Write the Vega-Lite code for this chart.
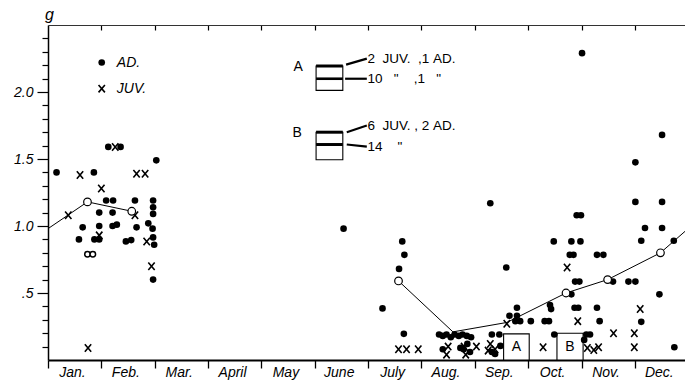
{
  "$schema": "https://vega.github.io/schema/vega-lite/v6.json",
  "width": 637,
  "height": 335,
  "autosize": {"type": "none"},
  "padding": {"left": 48, "top": 25, "right": 0, "bottom": 21},
  "background": "white",
  "config": {"view": {"stroke": null}, "axis": {"grid": false}},
  "resolve": {"axis": {"x": "independent", "y": "independent"}},
  "datasets": {
    "pts": [
      {"m": 0.16, "v": 1.40, "t": "AD"}, {"m": 0.86, "v": 1.40, "t": "AD"}, {"m": 1.13, "v": 1.59, "t": "AD"}, {"m": 1.36, "v": 1.59, "t": "AD"},
      {"m": 2.03, "v": 1.49, "t": "AD"}, {"m": 1.09, "v": 1.19, "t": "AD"}, {"m": 1.22, "v": 1.19, "t": "AD"}, {"m": 1.63, "v": 1.19, "t": "AD"},
      {"m": 1.97, "v": 1.19, "t": "AD"}, {"m": 0.96, "v": 1.10, "t": "AD"}, {"m": 1.21, "v": 1.10, "t": "AD"}, {"m": 1.97, "v": 1.14, "t": "AD"},
      {"m": 1.97, "v": 1.09, "t": "AD"}, {"m": 0.65, "v": 0.99, "t": "AD"}, {"m": 0.96, "v": 1.00, "t": "AD"}, {"m": 1.21, "v": 1.00, "t": "AD"},
      {"m": 1.29, "v": 1.01, "t": "AD"}, {"m": 1.66, "v": 0.99, "t": "AD"}, {"m": 1.88, "v": 1.02, "t": "AD"}, {"m": 1.96, "v": 0.98, "t": "AD"},
      {"m": 0.58, "v": 0.90, "t": "AD"}, {"m": 0.87, "v": 0.90, "t": "AD"}, {"m": 0.96, "v": 0.90, "t": "AD"}, {"m": 1.46, "v": 0.885, "t": "AD"},
      {"m": 1.56, "v": 0.895, "t": "AD"}, {"m": 1.97, "v": 0.915, "t": "AD"}, {"m": 1.99, "v": 0.86, "t": "AD"}, {"m": 1.97, "v": 0.60, "t": "AD"},
      {"m": 5.54, "v": 0.98, "t": "AD"}, {"m": 6.64, "v": 0.885, "t": "AD"}, {"m": 6.68, "v": 0.785, "t": "AD"}, {"m": 6.58, "v": 0.68, "t": "AD"},
      {"m": 6.27, "v": 0.385, "t": "AD"}, {"m": 6.67, "v": 0.195, "t": "AD"},
      {"m": 7.33, "v": 0.19, "t": "AD"}, {"m": 7.40, "v": 0.18, "t": "AD"}, {"m": 7.47, "v": 0.19, "t": "AD"}, {"m": 7.55, "v": 0.17, "t": "AD"},
      {"m": 7.62, "v": 0.19, "t": "AD"}, {"m": 7.70, "v": 0.18, "t": "AD"}, {"m": 7.77, "v": 0.19, "t": "AD"}, {"m": 7.85, "v": 0.18, "t": "AD"},
      {"m": 7.93, "v": 0.17, "t": "AD"}, {"m": 7.40, "v": 0.08, "t": "AD"}, {"m": 7.73, "v": 0.09, "t": "AD"}, {"m": 7.79, "v": 0.08, "t": "AD"},
      {"m": 7.86, "v": 0.12, "t": "AD"}, {"m": 7.91, "v": 0.06, "t": "AD"},
      {"m": 8.29, "v": 1.17, "t": "AD"}, {"m": 8.59, "v": 0.69, "t": "AD"}, {"m": 8.79, "v": 0.39, "t": "AD"}, {"m": 8.79, "v": 0.33, "t": "AD"},
      {"m": 8.65, "v": 0.33, "t": "AD"}, {"m": 8.76, "v": 0.29, "t": "AD"}, {"m": 8.85, "v": 0.29, "t": "AD"}, {"m": 9.05, "v": 0.29, "t": "AD"},
      {"m": 8.32, "v": 0.19, "t": "AD"}, {"m": 8.46, "v": 0.19, "t": "AD"}, {"m": 8.32, "v": 0.06, "t": "AD"}, {"m": 8.38, "v": 0.045, "t": "AD"},
      {"m": 8.48, "v": 0.105, "t": "AD"},
      {"m": 9.31, "v": 0.29, "t": "AD"}, {"m": 9.39, "v": 0.29, "t": "AD"}, {"m": 9.48, "v": 0.885, "t": "AD"}, {"m": 9.81, "v": 0.885, "t": "AD"},
      {"m": 9.98, "v": 0.885, "t": "AD"}, {"m": 9.91, "v": 1.08, "t": "AD"}, {"m": 9.99, "v": 1.08, "t": "AD"}, {"m": 9.78, "v": 0.785, "t": "AD"},
      {"m": 9.85, "v": 0.785, "t": "AD"}, {"m": 10.29, "v": 0.785, "t": "AD"}, {"m": 10.41, "v": 0.785, "t": "AD"}, {"m": 9.88, "v": 0.585, "t": "AD"},
      {"m": 9.96, "v": 0.585, "t": "AD"}, {"m": 9.81, "v": 0.49, "t": "AD"}, {"m": 9.41, "v": 0.41, "t": "AD"}, {"m": 9.43, "v": 0.38, "t": "AD"},
      {"m": 9.87, "v": 0.39, "t": "AD"}, {"m": 9.94, "v": 0.39, "t": "AD"}, {"m": 10.29, "v": 0.39, "t": "AD"}, {"m": 10.34, "v": 0.29, "t": "AD"},
      {"m": 9.49, "v": 0.19, "t": "AD"}, {"m": 10.09, "v": 0.19, "t": "AD"}, {"m": 10.16, "v": 0.19, "t": "AD"}, {"m": 10.05, "v": 0.15, "t": "AD"},
      {"m": 10.01, "v": 2.29, "t": "AD"}, {"m": 10.59, "v": 0.585, "t": "AD"}, {"m": 10.88, "v": 0.585, "t": "AD"}, {"m": 11.01, "v": 0.585, "t": "AD"},
      {"m": 11.01, "v": 1.475, "t": "AD"}, {"m": 11.01, "v": 1.18, "t": "AD"}, {"m": 11.19, "v": 0.985, "t": "AD"}, {"m": 11.12, "v": 0.89, "t": "AD"},
      {"m": 11.12, "v": 0.285, "t": "AD"}, {"m": 11.51, "v": 1.68, "t": "AD"}, {"m": 11.51, "v": 1.18, "t": "AD"}, {"m": 11.51, "v": 0.985, "t": "AD"},
      {"m": 11.73, "v": 0.89, "t": "AD"}, {"m": 11.46, "v": 0.49, "t": "AD"}, {"m": 11.74, "v": 0.095, "t": "AD"},
      {"m": 1.007, "v": 2.22, "t": "AD"},
      {"m": 0.38, "v": 1.08, "t": "JUV"}, {"m": 0.60, "v": 1.38, "t": "JUV"}, {"m": 1.00, "v": 1.28, "t": "JUV"}, {"m": 1.26, "v": 1.59, "t": "JUV"},
      {"m": 1.66, "v": 1.39, "t": "JUV"}, {"m": 1.82, "v": 1.39, "t": "JUV"}, {"m": 1.63, "v": 1.08, "t": "JUV"}, {"m": 1.85, "v": 0.885, "t": "JUV"},
      {"m": 1.94, "v": 0.70, "t": "JUV"}, {"m": 0.75, "v": 0.09, "t": "JUV"}, {"m": 0.96, "v": 0.93, "t": "JUV"},
      {"m": 6.57, "v": 0.08, "t": "JUV"}, {"m": 6.72, "v": 0.08, "t": "JUV"}, {"m": 6.94, "v": 0.08, "t": "JUV"},
      {"m": 7.50, "v": 0.10, "t": "JUV"}, {"m": 7.47, "v": 0.04, "t": "JUV"}, {"m": 7.80, "v": 0.10, "t": "JUV"}, {"m": 7.83, "v": 0.04, "t": "JUV"},
      {"m": 8.03, "v": 0.10, "t": "JUV"},
      {"m": 8.60, "v": 0.27, "t": "JUV"}, {"m": 8.29, "v": 0.12, "t": "JUV"}, {"m": 8.38, "v": 0.08, "t": "JUV"}, {"m": 8.25, "v": 0.07, "t": "JUV"},
      {"m": 9.73, "v": 0.69, "t": "JUV"}, {"m": 9.93, "v": 0.29, "t": "JUV"}, {"m": 9.28, "v": 0.095, "t": "JUV"}, {"m": 10.11, "v": 0.09, "t": "JUV"},
      {"m": 10.23, "v": 0.075, "t": "JUV"}, {"m": 10.32, "v": 0.095, "t": "JUV"},
      {"m": 10.60, "v": 0.20, "t": "JUV"}, {"m": 11.10, "v": 0.38, "t": "JUV"}, {"m": 10.99, "v": 0.20, "t": "JUV"}, {"m": 10.99, "v": 0.095, "t": "JUV"},
      {"m": 1.007, "v": 2.025, "t": "JUV"},
      {"m": 0.74, "v": 0.79, "t": "O"}, {"m": 0.84, "v": 0.79, "t": "O"}
    ],
    "mean": [
      {"m": 0, "v": 0.98, "seg": 1, "mk": false},
      {"m": 0.74, "v": 1.18, "seg": 1, "mk": true},
      {"m": 1.57, "v": 1.11, "seg": 1, "mk": true},
      {"m": 6.57, "v": 0.59, "seg": 2, "mk": true},
      {"m": 7.59, "v": 0.21, "seg": 2, "mk": false},
      {"m": 8.60, "v": 0.28, "seg": 2, "mk": false},
      {"m": 9.71, "v": 0.50, "seg": 2, "mk": true},
      {"m": 10.49, "v": 0.60, "seg": 2, "mk": true},
      {"m": 11.48, "v": 0.80, "seg": 2, "mk": true},
      {"m": 11.94, "v": 0.96, "seg": 2, "mk": false}
    ],
    "rects": [
      {"x1": 8.54, "x2": 9.02, "y1": 0, "y2": 0.195},
      {"x1": 9.54, "x2": 10.03, "y1": 0, "y2": 0.2},
      {"x1": 5.025, "x2": 5.526, "y1": 2.012, "y2": 2.194},
      {"x1": 5.025, "x2": 5.526, "y1": 1.494, "y2": 1.70}
    ],
    "rules": [
      {"x1": 5.025, "x2": 5.526, "y1": 2.194, "y2": 2.194, "w": "heavy"},
      {"x1": 5.025, "x2": 5.526, "y1": 2.099, "y2": 2.099, "w": "medium"},
      {"x1": 5.025, "x2": 5.526, "y1": 1.70, "y2": 1.70, "w": "heavy"},
      {"x1": 5.025, "x2": 5.526, "y1": 1.608, "y2": 1.608, "w": "heavy"},
      {"x1": 5.588, "x2": 5.976, "y1": 2.204, "y2": 2.249, "w": "thin"},
      {"x1": 5.569, "x2": 5.976, "y1": 2.099, "y2": 2.099, "w": "thin"},
      {"x1": 5.60, "x2": 5.976, "y1": 1.70, "y2": 1.75, "w": "thin"},
      {"x1": 5.60, "x2": 5.976, "y1": 1.608, "y2": 1.593, "w": "thin"}
    ],
    "ltext": [
      {"m": 5.99, "v": 2.249, "s": "2\u00a0\u00a0JUV.\u00a0\u00a0,1\u00a0AD."},
      {"m": 5.99, "v": 2.099, "s": "10\u00a0\u00a0\u00a0\"\u00a0\u00a0\u00a0\u00a0,1\u00a0\u00a0\u00a0\""},
      {"m": 5.99, "v": 1.75, "s": "6\u00a0\u00a0JUV.\u00a0,\u00a02\u00a0AD."},
      {"m": 5.99, "v": 1.593, "s": "14\u00a0\u00a0\u00a0\u00a0\""}
    ],
    "ctext": [
      {"m": 4.69, "v": 2.19, "s": "A"},
      {"m": 4.67, "v": 1.693, "s": "B"},
      {"m": 8.78, "v": 0.095, "s": "A"},
      {"m": 9.785, "v": 0.095, "s": "B"}
    ],
    "itext": [
      {"m": 1.29, "v": 2.22, "s": "AD."},
      {"m": 1.29, "v": 2.025, "s": "JUV."}
    ]
  },
  "layer": [
    {
      "data": {"name": "rects"},
      "mark": {"type": "rect", "fill": "white", "stroke": "black", "strokeWidth": 1.1},
      "encoding": {
        "x": {"field": "x1", "type": "quantitative", "scale": {"domain": [0, 11.94], "nice": false, "zero": false},
          "axis": {"orient": "bottom", "title": null, "values": [0,1,2,3,4,5,6,7,8,9,10,11],
            "labelExpr": "['Jan.','Feb.','Mar.','April','May','June','July','Aug.','Sep.','Oct.','Nov.','Dec.'][datum.value]",
            "labelOffset": 24, "labelAlign": "center", "labelFont": "Liberation Sans", "labelFontStyle": "italic",
            "labelFontSize": 14, "labelColor": "black", "labelPadding": -3, "labelFlush": false, "labelOverlap": false, "labelBound": false,
            "tickSize": 8, "tickColor": "black", "tickWidth": 1.3, "domainColor": "black", "domainWidth": 2, "grid": false}},
        "x2": {"field": "x2"},
        "y": {"field": "y1", "type": "quantitative", "scale": {"domain": [0, 2.5], "nice": false, "zero": false},
          "axis": {"orient": "left", "title": "g", "values": [0.5, 1, 1.5, 2],
            "labelExpr": "datum.value == 0.5 ? '.5' : format(datum.value, '.1f')",
            "labelFont": "Liberation Sans", "labelFontStyle": "italic", "labelFontSize": 14, "labelColor": "black", "labelPadding": 4,
            "tickSize": 11, "tickColor": "black", "tickWidth": 1.2, "domainColor": "black", "domainWidth": 1.5,
            "titleAngle": 0, "titleX": 1, "titleY": -6, "titleAlign": "center", "titleBaseline": "alphabetic",
            "titleFont": "Liberation Sans", "titleFontStyle": "italic", "titleFontSize": 16, "titleFontWeight": "normal", "titleColor": "black", "grid": false}},
        "y2": {"field": "y2"}
      }
    },
    {
      "data": {"name": "rules"},
      "mark": {"type": "rule", "color": "black"},
      "encoding": {
        "x": {"field": "x1", "type": "quantitative", "scale": {"domain": [0, 11.94], "nice": false, "zero": false},
          "axis": {"orient": "top", "title": null, "values": [1,2,3,4,5,6,7,8,9,10,11], "labels": false,
            "tickSize": -5, "tickColor": "black", "tickWidth": 1.2, "domainColor": "#333333", "domainWidth": 1, "grid": false}},
        "x2": {"field": "x2"},
        "y": {"field": "y1", "type": "quantitative", "scale": {"domain": [0, 2.5], "nice": false, "zero": false},
          "axis": {"orient": "left", "title": null, "values": [0.1,0.2,0.3,0.4,0.6,0.7,0.8,0.9,1.1,1.2,1.3,1.4,1.6,1.7,1.8,1.9,2.1,2.2,2.3,2.4],
            "labels": false, "domain": false, "tickSize": 6, "tickColor": "black", "tickWidth": 1.2, "grid": false}},
        "y2": {"field": "y2"},
        "strokeWidth": {"field": "w", "type": "nominal", "scale": {"domain": ["heavy", "medium", "thin"], "range": [3, 2.2, 1]}, "legend": null}
      }
    },
    {
      "data": {"name": "mean"},
      "mark": {"type": "line", "color": "black", "strokeWidth": 1},
      "encoding": {
        "x": {"field": "m", "type": "quantitative", "scale": {"domain": [0, 11.94], "nice": false, "zero": false}, "axis": null},
        "y": {"field": "v", "type": "quantitative", "scale": {"domain": [0, 2.5], "nice": false, "zero": false}, "axis": null},
        "detail": {"field": "seg", "type": "nominal"}
      }
    },
    {
      "data": {"name": "pts"},
      "transform": [{"filter": "datum.t == 'AD'"}],
      "mark": {"type": "point", "shape": "circle", "filled": true, "size": 44, "color": "black", "opacity": 1},
      "encoding": {
        "x": {"field": "m", "type": "quantitative", "scale": {"domain": [0, 11.94], "nice": false, "zero": false}, "axis": null},
        "y": {"field": "v", "type": "quantitative", "scale": {"domain": [0, 2.5], "nice": false, "zero": false}, "axis": null}
      }
    },
    {
      "data": {"name": "pts"},
      "transform": [{"filter": "datum.t == 'JUV'"}],
      "mark": {"type": "point", "shape": "M-0.85,-1L0.85,1M-0.85,1L0.85,-1", "filled": false, "size": 56, "stroke": "black", "strokeWidth": 1.6, "opacity": 1},
      "encoding": {
        "x": {"field": "m", "type": "quantitative", "scale": {"domain": [0, 11.94], "nice": false, "zero": false}, "axis": null},
        "y": {"field": "v", "type": "quantitative", "scale": {"domain": [0, 2.5], "nice": false, "zero": false}, "axis": null}
      }
    },
    {
      "data": {"name": "pts"},
      "transform": [{"filter": "datum.t == 'O'"}],
      "mark": {"type": "point", "shape": "circle", "filled": true, "fill": "white", "stroke": "black", "strokeWidth": 1.5, "size": 30, "opacity": 1},
      "encoding": {
        "x": {"field": "m", "type": "quantitative", "scale": {"domain": [0, 11.94], "nice": false, "zero": false}, "axis": null},
        "y": {"field": "v", "type": "quantitative", "scale": {"domain": [0, 2.5], "nice": false, "zero": false}, "axis": null}
      }
    },
    {
      "data": {"name": "mean"},
      "transform": [{"filter": "datum.mk"}],
      "mark": {"type": "point", "shape": "circle", "filled": true, "fill": "white", "stroke": "black", "strokeWidth": 1.2, "size": 58, "opacity": 1},
      "encoding": {
        "x": {"field": "m", "type": "quantitative", "scale": {"domain": [0, 11.94], "nice": false, "zero": false}, "axis": null},
        "y": {"field": "v", "type": "quantitative", "scale": {"domain": [0, 2.5], "nice": false, "zero": false}, "axis": null}
      }
    },
    {
      "data": {"name": "ltext"},
      "mark": {"type": "text", "align": "left", "baseline": "middle", "font": "Liberation Sans", "fontSize": 13.5, "color": "black"},
      "encoding": {
        "x": {"field": "m", "type": "quantitative", "scale": {"domain": [0, 11.94], "nice": false, "zero": false}, "axis": null},
        "y": {"field": "v", "type": "quantitative", "scale": {"domain": [0, 2.5], "nice": false, "zero": false}, "axis": null},
        "text": {"field": "s"}
      }
    },
    {
      "data": {"name": "ctext"},
      "mark": {"type": "text", "align": "center", "baseline": "middle", "font": "Liberation Sans", "fontSize": 14, "color": "black"},
      "encoding": {
        "x": {"field": "m", "type": "quantitative", "scale": {"domain": [0, 11.94], "nice": false, "zero": false}, "axis": null},
        "y": {"field": "v", "type": "quantitative", "scale": {"domain": [0, 2.5], "nice": false, "zero": false}, "axis": null},
        "text": {"field": "s"}
      }
    },
    {
      "data": {"name": "itext"},
      "mark": {"type": "text", "align": "left", "baseline": "middle", "font": "Liberation Sans", "fontStyle": "italic", "fontSize": 14, "color": "black"},
      "encoding": {
        "x": {"field": "m", "type": "quantitative", "scale": {"domain": [0, 11.94], "nice": false, "zero": false}, "axis": null},
        "y": {"field": "v", "type": "quantitative", "scale": {"domain": [0, 2.5], "nice": false, "zero": false}, "axis": null},
        "text": {"field": "s"}
      }
    }
  ]
}
